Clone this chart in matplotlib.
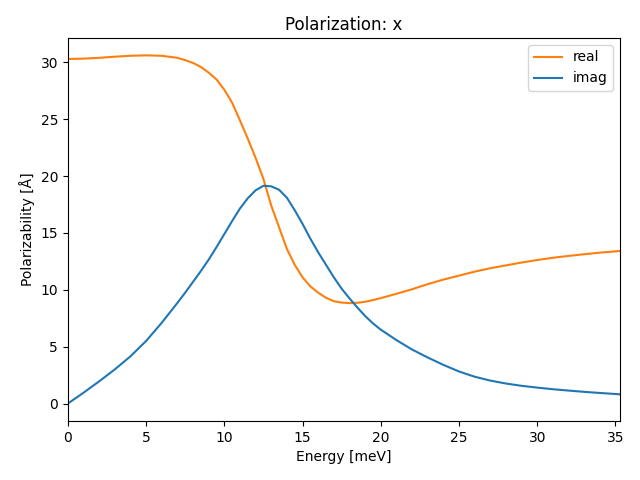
import matplotlib
matplotlib.use("Agg")
import matplotlib.pyplot as plt

# Energy grid (meV)
energy = [0, 1, 2, 3, 4, 5, 6, 7, 7.5, 8, 8.5, 9, 9.5, 10, 10.5, 11, 11.5,
          12, 12.5, 13, 13.5, 14, 14.5, 15, 15.5, 16, 16.5, 17, 17.5, 18,
          18.5, 19, 19.5, 20, 21, 22, 23, 24, 25, 26, 27, 28, 29, 30, 31,
          32, 33, 34, 35, 35.3]

real = [30.3, 30.33, 30.4, 30.5, 30.58, 30.62, 30.58, 30.4, 30.2, 29.95,
        29.6, 29.1, 28.5, 27.6, 26.45, 24.9, 23.3, 21.6, 19.75, 17.4, 15.5,
        13.6, 12.2, 11.1, 10.3, 9.75, 9.3, 9.0, 8.88, 8.83, 8.86, 8.95,
        9.1, 9.27, 9.65, 10.05, 10.5, 10.9, 11.25, 11.6, 11.9, 12.15,
        12.4, 12.62, 12.82, 12.98, 13.13, 13.27, 13.38, 13.42]

imag = [0, 0.95, 1.95, 3.0, 4.15, 5.5, 7.1, 8.85, 9.75, 10.7, 11.65, 12.65,
        13.75, 14.9, 16.05, 17.15, 18.05, 18.75, 19.15, 19.1, 18.8, 18.1,
        17.0, 15.8, 14.5, 13.3, 12.2, 11.1, 10.1, 9.25, 8.45, 7.7, 7.05,
        6.5, 5.58, 4.75, 4.05, 3.4, 2.82, 2.36, 2.02, 1.76, 1.56, 1.4,
        1.26, 1.14, 1.03, 0.93, 0.84, 0.81]

fig, ax = plt.subplots(figsize=(6.4, 4.8), dpi=100)
ax.plot(energy, real, color="tab:orange", label="real")
ax.plot(energy, imag, color="tab:blue", label="imag")
ax.set_xlim(0, energy[-1])
ax.set_title("Polarization: x")
ax.set_xlabel("Energy [meV]")
ax.set_ylabel("Polarizability [Å]")
ax.legend(loc="upper right")
fig.subplots_adjust(left=0.106, right=0.969, top=0.921, bottom=0.123)
fig.savefig("out.png")
